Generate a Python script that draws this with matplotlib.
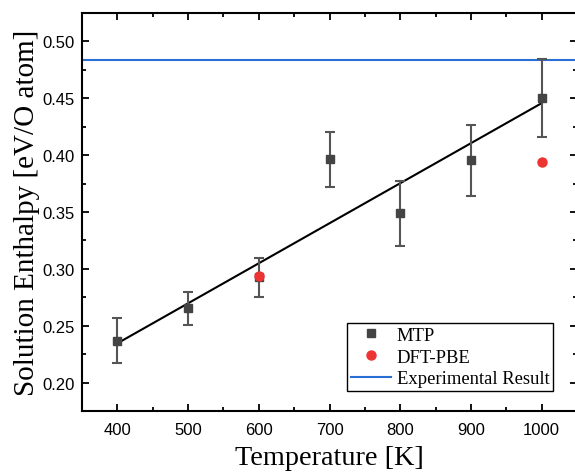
import matplotlib
matplotlib.use("Agg")
import matplotlib.pyplot as plt
from matplotlib.lines import Line2D
from matplotlib.ticker import MultipleLocator, AutoMinorLocator, FormatStrFormatter

temps = [400, 500, 600, 700, 800, 900, 1000]
mtp = [0.2367, 0.2652, 0.2924, 0.3962, 0.3487, 0.3953, 0.4501]
mtp_err = [0.0197, 0.0145, 0.0172, 0.0240, 0.0284, 0.0316, 0.0342]
dft_temps = [600, 1000]
dft = [0.2938, 0.3936]
exp_value = 0.4836
fit_x = [400, 1000]
fit_y = [0.2345, 0.4457]

fig = plt.figure(figsize=(5.75, 4.77), dpi=100)
W, H = 575, 477
left, right, top, bottom = 82, 577, 14, 412
ax = fig.add_axes([left / W, 1 - bottom / H, (right - left) / W, (bottom - top) / H])

mtp_color = "#444444"
dft_color = "#ee3333"
exp_color = "#2a6fd6"

ax.plot(fit_x, fit_y, color="black", lw=1.5, zorder=2)
ax.errorbar(temps, mtp, yerr=mtp_err, fmt="s", color=mtp_color, ecolor="#555555",
            elinewidth=1.5, capsize=3.3, capthick=1.5, markersize=6, zorder=3)
ax.plot(dft_temps, dft, "o", color=dft_color, markersize=6.5, linestyle="none", zorder=4)
ax.axhline(exp_value, color=exp_color, lw=1.5, zorder=1)

ax.set_xlim(350, 1050)
ax.set_ylim(0.175, 0.525)
ax.xaxis.set_major_locator(MultipleLocator(100))
ax.xaxis.set_minor_locator(AutoMinorLocator(2))
ax.yaxis.set_major_locator(MultipleLocator(0.05))
ax.yaxis.set_minor_locator(AutoMinorLocator(2))
ax.yaxis.set_major_formatter(FormatStrFormatter("%.2f"))

for s in ax.spines.values():
    s.set_linewidth(1.5)
ax.tick_params(which="both", direction="in", top=True, right=True, width=1.3,
               labelsize=12, labelfontfamily="Liberation Sans")
ax.tick_params(which="major", length=5)
ax.tick_params(which="minor", length=3)
ax.tick_params(axis="x", pad=8)
ax.tick_params(axis="y", pad=5)

ax.set_xlabel("Temperature [K]", fontfamily="Liberation Serif", fontsize=20.3, labelpad=6)
ax.set_ylabel("Solution Enthalpy [eV/O atom]", fontfamily="Liberation Serif", fontsize=21, labelpad=2)

handles = [
    Line2D([], [], marker="s", color=mtp_color, linestyle="none", markersize=6),
    Line2D([], [], marker="o", color=dft_color, linestyle="none", markersize=6.5),
    Line2D([], [], color=exp_color, lw=1.5),
]
labels = ["MTP", "DFT-PBE", "Experimental Result"]
leg = ax.legend(handles, labels, loc="lower right",
                bbox_to_anchor=((553 - left) / (right - left), (bottom - 392) / (bottom - top)),
                prop={"family": "Liberation Serif", "size": 13.4}, frameon=True, fancybox=False,
                edgecolor="black", framealpha=1, borderpad=0.2, labelspacing=0.25,
                handlelength=2.15, handletextpad=0.3, borderaxespad=0)
leg.get_frame().set_linewidth(1.0)

fig.savefig("out.png", dpi=100)
